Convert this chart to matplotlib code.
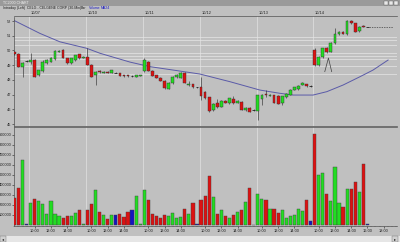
import numpy as np
import matplotlib.pyplot as plt
from matplotlib.transforms import blended_transform_factory
from matplotlib.patches import Rectangle

# 30-min bars, 14 slots per day (9:30 .. 16:00), slot 0 = 10/07 9:30
slots = np.arange(-4, 84)

opens = [49.9, 49.75, 48.88, 49.3,
         49.25, 49.35, 48.3, 48.6, 49.12, 49.24, 49.4, 49.93, 50.03, 49.46, 49.12, 49.35, 49.74, 49.52,
         49.58, 49.0, 48.33, 48.6, 48.5, 48.56, 48.48, 48.5, 48.45, 48.32, 48.3, 48.25, 48.22, 48.28,
         48.6, 49.24, 48.62, 48.33, 48.15, 47.95, 47.38, 47.77, 48.2, 48.15, 48.49, 47.67, 47.72, 47.5,
         47.5, 47.2, 46.82, 45.95, 46.45, 46.18, 46.55, 46.41, 46.68, 46.45, 46.52, 45.95, 46.1, 45.95,
         45.9, 46.7, 47.05, 46.92, 46.97, 46.9, 46.4, 46.86, 46.97, 47.3, 47.36, 47.65, 47.72, 47.58,
         50.05, 49.0, 49.55, 50.14, 49.92, 50.5, 51.1, 51.28, 51.12, 52.0, 51.85, 51.3, 51.68, 51.61]
highs = [49.95, 49.85, 49.2, 49.35,
         49.8, 49.4, 48.7, 49.35, 49.4, 49.58, 50.0, 50.05, 50.07, 49.5, 49.5, 49.72, 49.78, 49.6,
         50.14, 49.05, 48.6, 48.65, 48.6, 48.6, 48.7, 48.55, 48.5, 48.35, 48.33, 48.3, 48.35, 48.35,
         49.5, 49.28, 48.65, 48.36, 48.18, 47.98, 47.85, 48.25, 48.4, 48.55, 48.52, 47.95, 47.75, 47.55,
         48.2, 47.25, 46.85, 46.4, 46.7, 46.62, 46.6, 46.8, 46.9, 46.6, 46.55, 46.15, 46.13, 46.0,
         47.0, 47.05, 47.3, 47.02, 47.0, 46.95, 46.92, 47.08, 47.35, 47.55, 47.62, 47.85, 47.75, 47.62,
         50.15, 49.65, 50.2, 50.25, 50.55, 51.5, 51.35, 51.32, 52.1, 52.05, 51.9, 51.65, 51.72, 51.63]
lows = [49.7, 48.85, 48.22, 49.25,
        49.05, 48.2, 48.25, 48.55, 49.1, 49.2, 49.38, 49.9, 49.48, 49.1, 49.1, 49.3, 49.45, 49.5,
        48.98, 48.2, 47.65, 48.5, 48.45, 48.45, 48.45, 48.45, 48.25, 48.22, 48.2, 48.2, 48.18, 48.25,
        48.55, 48.58, 48.24, 48.12, 47.9, 47.4, 47.35, 47.75, 48.15, 48.12, 47.78, 47.6, 47.48, 47.45,
        46.63, 46.72, 45.85, 45.9, 46.1, 46.15, 46.42, 46.38, 46.38, 46.4, 45.92, 45.9, 45.8, 45.9,
        45.3, 46.3, 46.85, 46.88, 46.42, 46.33, 46.3, 46.8, 46.95, 47.28, 47.33, 47.62, 47.55, 47.55,
        48.95, 48.95, 49.5, 49.85, 49.88, 50.45, 51.05, 51.1, 51.08, 51.82, 51.24, 51.28, 51.58, 51.59]
closes = [49.75, 48.88, 49.12, 49.3,
          49.35, 48.22, 48.67, 49.24, 49.35, 49.46, 49.96, 49.98, 49.5, 49.12, 49.46, 49.69, 49.5, 49.55,
          49.0, 48.22, 48.56, 48.54, 48.56, 48.5, 48.65, 48.5, 48.28, 48.27, 48.25, 48.25, 48.3, 48.32,
          49.35, 48.6, 48.26, 48.15, 47.92, 47.43, 47.81, 48.22, 48.3, 48.49, 47.81, 47.72, 47.5, 47.5,
          46.9, 46.75, 45.9, 46.36, 46.14, 46.59, 46.45, 46.75, 46.41, 46.55, 45.95, 46.1, 45.84, 45.95,
          46.95, 47.0, 46.98, 46.98, 46.45, 46.36, 46.9, 47.03, 47.3, 47.5, 47.58, 47.8, 47.58, 47.58,
          49.0, 49.58, 50.14, 49.92, 50.5, 51.15, 51.28, 51.15, 52.02, 51.85, 51.27, 51.6, 51.6, 51.61]
volumes = [267000, 367000, 653000, 15000,
           223000, 257000, 240000, 207000, 107000, 237000, 110000, 90000, 67000, 87000, 92000, 117000, 155000, 12000,
           147000, 207000, 350000, 133000, 103000, 57000, 100000, 100000, 110000, 77000, 127000, 153000, 290000, 15000,
           350000, 250000, 107000, 95000, 75000, 105000, 95000, 117000, 75000, 80000, 163000, 110000, 222000, 8000,
           247000, 293000, 490000, 280000, 113000, 153000, 90000, 70000, 100000, 127000, 153000, 227000, 367000, 5000,
           310000, 259000, 250000, 157000, 157000, 120000, 150000, 67000, 93000, 100000, 159000, 143000, 247000, 40000,
           910000, 500000, 517000, 307000, 240000, 580000, 223000, 183000, 357000, 357000, 430000, 327000, 607000, 10000]

day_labels = ['10/07', '10/10', '10/11', '10/12', '10/13', '10/14']
day_starts = [0, 14, 28, 42, 56, 70]

# MA24 line
ma_slots = [-4.3, 2.3, 7.2, 13.8, 17.1, 24.5, 29.4, 35.1, 41.7, 49.1, 56.5, 61.4, 64.7, 69.6, 73, 77, 81.2, 84.4, 88.1]
ma_values = [52.07, 51.16, 50.59, 50.15, 49.81, 49.21, 48.9, 48.67, 48.4, 47.88, 47.31, 47.09, 46.97, 46.97,
             47.2, 47.65, 48.22, 48.67, 49.35]

# hand drawn horizontal levels and the little "^" mark
level_lines = [50.95, 50.74, 50.40, 49.83, 49.62, 49.45, 48.94, 48.40]
mark_slots = [72.5, 73.4, 74.2]
mark_prices = [48.56, 49.49, 48.56]
last_price = 51.61

price_ticks = [45, 46, 47, 48, 49, 50, 51, 52]
vol_ticks = [100000, 200000, 300000, 400000, 500000, 600000, 700000, 800000, 900000]
time_ticks = [1, 5, 9]
time_names = ['10:00', '12:00', '14:00']
extra_ticks = [83, 87]
extra_names = ['16:00', '18:00']

BG = '#C0C0C0'
GREEN = '#22DD22'
RED = '#DD1111'
BLUE = '#1414C0'
FS = 2.8
plt.rcParams['font.family'] = ['Liberation Sans', 'DejaVu Sans']

o = np.array(opens)
c = np.array(closes)
cols = np.where(c > o, GREEN, np.where(c < o, RED, BLUE))

fig = plt.figure(figsize=(4, 2.42), dpi=100, facecolor=BG)
W, H = 400, 242
xl = (-4.1, 90.3)

axp = fig.add_axes([14 / W, 1 - 125.5 / H, 383 / W, 109 / H], facecolor=BG)
axv = fig.add_axes([14 / W, 1 - 226 / H, 383 / W, 99 / H], facecolor=BG)

for ax in (axp, axv):
    for sp in ax.spines.values():
        sp.set_color('#505050')
        sp.set_linewidth(0.5)
    ax.spines['right'].set_visible(False)
    ax.tick_params(axis='y', length=1.2, width=0.4, labelsize=FS, pad=0.6, colors='#202020')
    for d in day_starts:
        ax.axvline(d - 0.3, color='#E2E2E2', lw=0.5, zorder=1)

# price panel
axp.set_yticks(price_ticks)
axp.set_yticklabels([str(p) for p in price_ticks])
axp.set_xticks([])
for lv in level_lines:
    axp.axhline(lv, color='#E6E6E6', lw=0.5, zorder=1)
axp.plot(ma_slots, ma_values, color='#5A5AA8', lw=0.7, zorder=2)

axp.vlines(slots, lows, highs, color='#202020', lw=0.4, zorder=3)
body = np.abs(c - o)
real = body > 0
axp.bar(slots[real], body[real], bottom=np.minimum(o, c)[real], width=0.68,
        color=cols[real], edgecolor='#303030', linewidth=0.3, zorder=4)
axp.hlines(c[~real], slots[~real] - 0.34, slots[~real] + 0.34, color='#202020', lw=0.6, zorder=4)

axp.plot(mark_slots, mark_prices, color='#404040', lw=0.5, zorder=5)
axp.hlines(last_price, slots[-1] + 0.5, 89.4, color='#404040', lw=0.5, linestyles=(0, (2, 1.5)), zorder=5)
axp.set_xlim(*xl)
axp.set_ylim(44.9, 52.31)

tr = blended_transform_factory(axp.transData, axp.transAxes)
for d, lab in zip(day_starts, day_labels):
    axp.text(d + 0.1, 1.03, lab, transform=tr, fontsize=FS, color='#202020', va='center', ha='left')

# volume panel
axv.set_yticks(vol_ticks)
axv.set_yticklabels([str(v) for v in vol_ticks])
axv.bar(slots, volumes, width=0.78, color=cols, edgecolor='#404040', linewidth=0.3, zorder=3)
xt, xn = [], []
for d in day_starts:
    xt += [d + t for t in time_ticks]
    xn += time_names
xt += extra_ticks
xn += extra_names
axv.set_xticks(xt)
axv.set_xticklabels(xn)
axv.set_xticks(np.arange(-4, 91), minor=True)
axv.tick_params(axis='x', which='major', length=1.2, width=0.4, labelsize=FS, pad=0.8, colors='#202020')
axv.tick_params(axis='x', which='minor', length=0.8, width=0.3, colors='#505050')
axv.set_xlim(*xl)
axv.set_ylim(-10000, 980000)

# window chrome: title strip, legend row, scrollbar
fig.patches.append(Rectangle((0, 1 - 5.5 / H), 1, 5.5 / H, transform=fig.transFigure,
                             facecolor='#9A9A9A', edgecolor='none'))
fig.text(3 / W, 1 - 2.8 / H, 'TC2000 CHART', fontsize=2.6, color='#F0F0F0', va='center')
for i in range(3):
    fig.patches.append(Rectangle(((384 + i * 5) / W, 1 - 5 / H), 4 / W, 4 / H, transform=fig.transFigure,
                                 facecolor='#E8E8E8', edgecolor='#606060', linewidth=0.3))
legend_bits = [(3, 'Intraday (Left)', '#202020'), (27, 'CELG - CELGENE CORP (30-Min)', '#202020'),
               (81, 'Bar', '#202020'), (89, 'Volume', '#2020C0'), (101, 'MA24', '#2020C0')]
for xp, txt, colr in legend_bits:
    fig.text(xp / W, 1 - 8 / H, txt, fontsize=2.5, color=colr, va='center')

fig.patches.append(Rectangle((0, 0), 1, 6.5 / H, transform=fig.transFigure,
                             facecolor='#E6E6E6', edgecolor='none'))
for xb in (0, 392):
    fig.patches.append(Rectangle((xb / W, 0.5 / H), 6 / W, 5.5 / H, transform=fig.transFigure,
                                 facecolor='#D0D0D0', edgecolor='#707070', linewidth=0.3))
fig.text(3 / W, 3.2 / H, '◂', fontsize=3, ha='center', va='center', color='#202020')
fig.text(395 / W, 3.2 / H, '▸', fontsize=3, ha='center', va='center', color='#202020')

fig.savefig('out.png', dpi=100, facecolor=BG)
